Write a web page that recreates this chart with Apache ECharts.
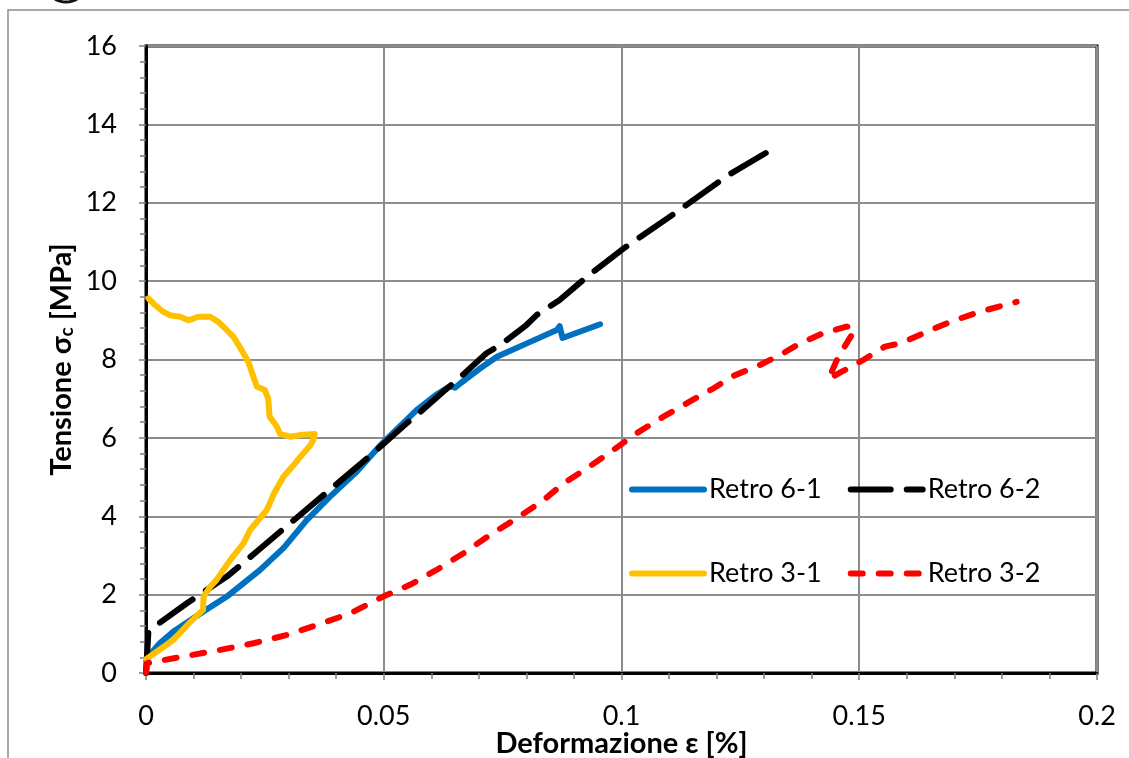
<!DOCTYPE html>
<html>
<head>
<meta charset="utf-8">
<script src="https://cdn.jsdelivr.net/npm/echarts@6/dist/echarts.min.js"></script>
<style>
  html, body { margin: 0; padding: 0; background: #fff; }
  #chart { width: 1129px; height: 758px; }
</style>
</head>
<body>
<div id="chart"></div>
<script>
// Stress–strain curves of the four "Retro" specimens
const retro61X = [0, 0.0029, 0.0057, 0.0120, 0.0170, 0.0240, 0.0290, 0.0338, 0.0387, 0.0440, 0.0492, 0.0530, 0.0569, 0.0610, 0.0640, 0.0650, 0.0662, 0.0700, 0.0738, 0.0808, 0.0864, 0.0870, 0.0876, 0.0955];
const retro61Y = [0.35, 0.76, 1.05, 1.56, 1.95, 2.63, 3.2, 3.9, 4.5, 5.1, 5.8, 6.25, 6.71, 7.1, 7.32, 7.28, 7.4, 7.75, 8.07, 8.45, 8.75, 8.85, 8.55, 8.9];

const retro62X = [0, 0.0005, 0.0022, 0.0086, 0.0170, 0.0233, 0.0303, 0.0394, 0.0470, 0.0548, 0.0573, 0.0625, 0.0650, 0.0716, 0.0745, 0.0800, 0.0822, 0.0870, 0.0927, 0.1004, 0.1112, 0.1225, 0.1326];
const retro62Y = [0, 1.05, 1.22, 1.78, 2.46, 3.1, 3.82, 4.75, 5.53, 6.37, 6.62, 7.18, 7.43, 8.16, 8.37, 8.88, 9.14, 9.52, 10.11, 10.83, 11.73, 12.71, 13.43];

const retro31X = [0, 0.0029, 0.0057, 0.0093, 0.0120, 0.0121, 0.0135, 0.0148, 0.0177, 0.0205, 0.0219, 0.0254, 0.0270, 0.0289, 0.0310, 0.0331, 0.0345, 0.0352, 0.0355, 0.0330, 0.0303, 0.0282, 0.0275, 0.0260, 0.0257, 0.0250, 0.0233, 0.0226, 0.0215, 0.0201, 0.0184, 0.0170, 0.0152, 0.0135, 0.0110, 0.0089, 0.0072, 0.0050, 0.0036, 0.0019, 0.0005];
const retro31Y = [0.35, 0.6, 0.84, 1.3, 1.61, 1.95, 2.2, 2.37, 2.88, 3.31, 3.65, 4.16, 4.6, 5.01, 5.3, 5.61, 5.8, 5.95, 6.1, 6.08, 6.03, 6.1, 6.29, 6.54, 7.0, 7.22, 7.31, 7.56, 7.94, 8.24, 8.58, 8.75, 8.96, 9.09, 9.09, 9.0, 9.09, 9.13, 9.22, 9.39, 9.56];

const retro32X = [0, 0.0002, 0.0078, 0.0156, 0.0226, 0.0296, 0.0359, 0.0429, 0.0499, 0.0555, 0.0611, 0.0667, 0.0723, 0.0780, 0.0836, 0.0878, 0.0927, 0.0983, 0.1032, 0.1088, 0.1144, 0.1193, 0.1235, 0.1291, 0.1333, 0.1375, 0.1424, 0.1473, 0.1490, 0.1484, 0.1456, 0.1435, 0.1463, 0.1484, 0.1510, 0.1554, 0.1586, 0.1635, 0.1691, 0.1754, 0.1831];
const retro32Y = [0, 0.25, 0.42, 0.59, 0.76, 0.97, 1.22, 1.52, 1.95, 2.25, 2.63, 3.05, 3.52, 3.95, 4.41, 4.84, 5.22, 5.69, 6.12, 6.54, 6.93, 7.26, 7.58, 7.86, 8.11, 8.41, 8.67, 8.84, 8.8, 8.62, 8.07, 7.5, 7.69, 7.82, 8.0, 8.33, 8.41, 8.67, 8.96, 9.22, 9.47];

const seriesNames = ['Retro 6-1', 'Retro 6-2', 'Retro 3-1', 'Retro 3-2'];
const xTicks = { min: 0, max: 0.2, step: 0.05 };
const yTicks = { min: 0, max: 16, step: 2 };

const zip = (xs, ys) => xs.map((x, i) => [x, ys[i]]);

const FONT = 'Lato';
const LINE_W = 6;
const chart = echarts.init(document.getElementById('chart'), null, { renderer: 'canvas' });

function lineSeries(name, data, color, dash) {
  return {
    name: name,
    type: 'line',
    data: data,
    showSymbol: false,
    symbol: 'none',
    smooth: false,
    animation: false,
    itemStyle: { color: color },
    lineStyle: { color: color, width: LINE_W, type: dash || 'solid', cap: 'round', join: 'round' }
  };
}

const axisCommon = {
  axisLine: { show: true, onZero: false, lineStyle: { color: '#000', width: 3 } },
  axisTick: { show: true, inside: false, length: 7, lineStyle: { color: '#7f7f7f', width: 1.5 } },
  minorTick: { show: true, splitNumber: 5, length: 6, lineStyle: { color: '#7f7f7f', width: 1.5 } },
  splitLine: { show: true, lineStyle: { color: '#8c8c8c', width: 2 } },
  axisLabel: { color: '#000', fontFamily: FONT, fontSize: 27 },
  nameMoveOverlap: false
};

// two-row legend: each row is its own legend component
function legendBlock(names, top) {
  return {
    data: names,
    orient: 'horizontal',
    left: 624,
    top: top,
    itemWidth: 72,
    itemHeight: 16,
    itemGap: 26,
    itemStyle: { opacity: 0 },
    lineStyle: { width: LINE_W, cap: 'round' },
    textStyle: { color: '#000', fontFamily: FONT, fontSize: 27 }
  };
}

chart.setOption({
  backgroundColor: '#fff',
  animation: false,
  grid: {
    left: 146, right: 32, top: 46, bottom: 85,
    containLabel: false,
    outerBoundsMode: 'none',
    show: true, borderColor: '#000', borderWidth: 3, backgroundColor: 'transparent'
  },
  xAxis: Object.assign({}, axisCommon, {
    type: 'value',
    min: xTicks.min, max: xTicks.max, interval: xTicks.step,
    name: 'Deformazione ε [%]',
    nameLocation: 'middle',
    nameGap: 56,
    nameTextStyle: { color: '#000', fontFamily: FONT, fontSize: 29, fontWeight: 'bold' },
    axisLabel: Object.assign({}, axisCommon.axisLabel, { margin: 30 })
  }),
  yAxis: Object.assign({}, axisCommon, {
    type: 'value',
    min: yTicks.min, max: yTicks.max, interval: yTicks.step,
    name: '{b|Tensione σ}{s|c}{b| [MPa]}',
    nameLocation: 'middle',
    nameGap: 70,
    nameRotate: 90,
    nameTextStyle: {
      rich: {
        b: { color: '#000', fontFamily: FONT, fontSize: 29, fontWeight: 'bold', lineHeight: 34, verticalAlign: 'bottom' },
        s: { color: '#000', fontFamily: FONT, fontSize: 19, fontWeight: 'bold', lineHeight: 34, verticalAlign: 'bottom' }
      }
    },
    axisLabel: Object.assign({}, axisCommon.axisLabel, { margin: 29 })
  }),
  legend: [
    legendBlock([seriesNames[0], seriesNames[1]], 471),
    legendBlock([seriesNames[2], seriesNames[3]], 555)
  ],
  graphic: [
    {
      type: 'polyline',
      silent: true,
      shape: { points: [[8, 760], [8, 10], [1131, 10]] },
      style: { stroke: '#8c8c8c', lineWidth: 1.5, fill: null }
    },
    {
      type: 'ellipse',
      silent: true,
      shape: { cx: 66, cy: -9, rx: 16, ry: 11 },
      style: { stroke: '#111', lineWidth: 3, fill: null }
    }
  ],
  series: [
    lineSeries(seriesNames[0], zip(retro61X, retro61Y), '#0070C0', 'solid'),
    lineSeries(seriesNames[1], zip(retro62X, retro62Y), '#000000', [40, 16]),
    lineSeries(seriesNames[2], zip(retro31X, retro31Y), '#FFC000', 'solid'),
    lineSeries(seriesNames[3], zip(retro32X, retro32Y), '#FF0000', [12, 16])
  ]
});
</script>
</body>
</html>
